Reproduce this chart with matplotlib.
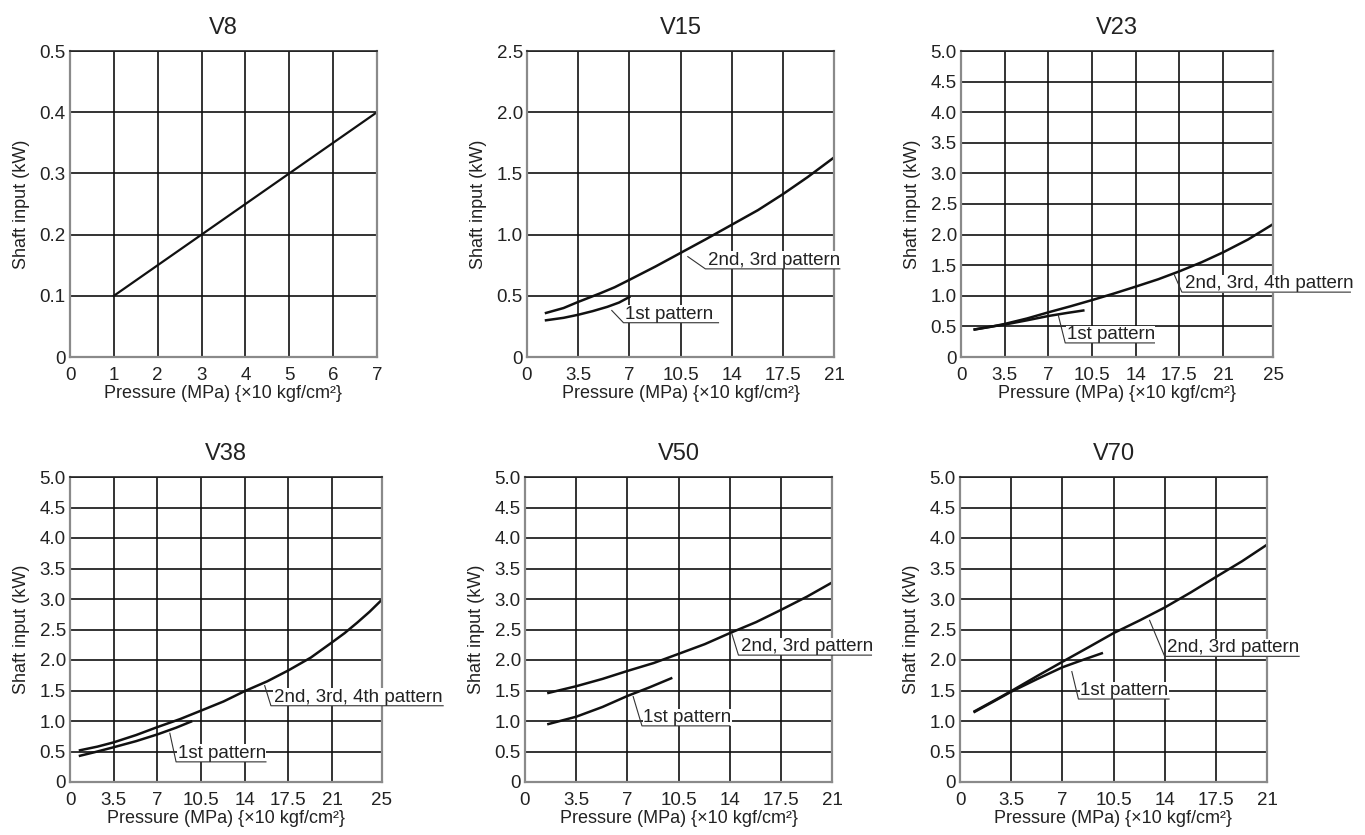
import matplotlib.pyplot as plt

plt.rcParams["font.family"] = ["Liberation Sans", "DejaVu Sans"]

# ---- chart data ----
titles = ["V8", "V15", "V23", "V38", "V50", "V70"]

x_ticks_7 = [0, 1, 2, 3, 4, 5, 6, 7]
x_ticks_21 = [0, 3.5, 7, 10.5, 14, 17.5, 21]
x_ticks_25 = [0, 3.5, 7, 10.5, 14, 17.5, 21, 25]
x_labels_7 = ["0", "1", "2", "3", "4", "5", "6", "7"]
x_labels_21 = ["0", "3.5", "7", "10.5", "14", "17.5", "21"]
x_labels_25 = ["0", "3.5", "7", "10.5", "14", "17.5", "21", "25"]

y_ticks_05 = [0, 0.1, 0.2, 0.3, 0.4, 0.5]
y_labels_05 = ["0", "0.1", "0.2", "0.3", "0.4", "0.5"]
y_ticks_25 = [0, 0.5, 1.0, 1.5, 2.0, 2.5]
y_labels_25 = ["0", "0.5", "1.0", "1.5", "2.0", "2.5"]
y_ticks_50 = [0, 0.5, 1.0, 1.5, 2.0, 2.5, 3.0, 3.5, 4.0, 4.5, 5.0]
y_labels_50 = ["0", "0.5", "1.0", "1.5", "2.0", "2.5", "3.0", "3.5", "4.0", "4.5", "5.0"]

# V8
v8_x = [1, 7]
v8_y = [0.1, 0.4]

# V15
v15_hi_x = [1.3, 2.5, 3.5, 5.0, 6.0, 7, 8.8, 10.5, 12.2, 14, 15.8, 17.5, 19.2, 21]
v15_hi_y = [0.36, 0.40, 0.45, 0.52, 0.57, 0.63, 0.74, 0.85, 0.96, 1.08, 1.20, 1.33, 1.47, 1.63]
v15_lo_x = [1.3, 2.5, 3.5, 4.5, 5.5, 6.3, 7]
v15_lo_y = [0.30, 0.32, 0.345, 0.375, 0.41, 0.445, 0.49]

# V23
v23_hi_x = [1.1, 2.3, 3.5, 5.3, 7, 8.8, 10.5, 12.3, 14, 15.8, 17.5, 19.3, 21, 23, 25]
v23_hi_y = [0.45, 0.49, 0.54, 0.63, 0.73, 0.83, 0.93, 1.04, 1.15, 1.27, 1.40, 1.55, 1.71, 1.92, 2.17]
v23_lo_x = [1.1, 2.2, 3.5, 5.3, 7, 8.5, 9.8]
v23_lo_y = [0.45, 0.49, 0.53, 0.60, 0.67, 0.72, 0.76]

# V38
v38_hi_x = [0.8, 2.2, 3.5, 5.3, 7, 8.8, 10.5, 12.3, 14, 15.8, 17.5, 19.3, 21, 22, 23, 24, 25]
v38_hi_y = [0.52, 0.58, 0.65, 0.77, 0.90, 1.03, 1.17, 1.32, 1.49, 1.65, 1.83, 2.04, 2.29, 2.44, 2.61, 2.79, 2.99]
v38_lo_x = [0.8, 2.0, 3.5, 5.3, 7, 8.5, 9.7]
v38_lo_y = [0.43, 0.49, 0.57, 0.67, 0.78, 0.89, 0.99]

# V50
v50_hi_x = [1.6, 3.5, 5.3, 7, 8.8, 10.5, 12.3, 14, 15.8, 17.5, 19.3, 21]
v50_hi_y = [1.46, 1.57, 1.69, 1.82, 1.95, 2.10, 2.26, 2.44, 2.62, 2.82, 3.04, 3.27]
v50_lo_x = [1.6, 3.5, 5.3, 7, 8.5, 10.0]
v50_lo_y = [0.95, 1.07, 1.23, 1.41, 1.55, 1.70]

# V70
v70_hi_x = [1.0, 2.3, 3.5, 5.3, 7, 8.8, 10.5, 12.3, 14, 15.8, 17.5, 19.3, 21]
v70_hi_y = [1.16, 1.33, 1.49, 1.74, 1.97, 2.21, 2.44, 2.65, 2.86, 3.11, 3.36, 3.62, 3.89]
v70_lo_x = [1.0, 2.3, 3.5, 5.3, 7, 8.5, 9.7]
v70_lo_y = [1.15, 1.32, 1.48, 1.69, 1.88, 2.01, 2.11]

# annotations: label, curve point, underline start, underline end (data units)
v15_notes = [("2nd, 3rd pattern", (11.0, 0.82), (12.2, 0.72), (21.4, 0.72)),
             ("1st pattern", (5.8, 0.38), (6.6, 0.28), (13.1, 0.28))]
v23_notes = [("2nd, 3rd, 4th pattern", (17.1, 1.34), (17.7, 1.06), (31.2, 1.06)),
             ("1st pattern", (7.8, 0.68), (8.35, 0.23), (15.5, 0.23))]
v38_notes = [("2nd, 3rd, 4th pattern", (15.6, 1.58), (16.1, 1.25), (29.9, 1.25)),
             ("1st pattern", (8.0, 0.80), (8.5, 0.33), (15.7, 0.33))]
v50_notes = [("2nd, 3rd pattern", (14.15, 2.43), (14.6, 2.08), (23.7, 2.08)),
             ("1st pattern", (7.4, 1.40), (8.0, 0.92), (14.0, 0.92))]
v70_notes = [("2nd, 3rd pattern", (12.97, 2.65), (14.0, 2.06), (23.2, 2.06)),
             ("1st pattern", (7.65, 1.81), (8.1, 1.36), (14.3, 1.36))]

x_label = "Pressure (MPa) {\u00d710 kgf/cm\u00b2}"
y_label = "Shaft input (kW)"

# ---- layout (pixel boxes of the reference) ----
W, H = 1365, 835
boxes = [(70, 51, 307, 306), (527, 51, 307, 306), (961, 51, 312, 306),
         (70, 477, 312, 305), (525, 477, 307, 305), (960, 477, 307, 305)]

fig = plt.figure(figsize=(W / 100, H / 100), dpi=100)


def make_axes(box):
    left, top, w, h = box
    return fig.add_axes([left / W, 1 - (top + h) / H, w / W, h / H])


def style_axes(ax, title, xticks, xlabels, yticks, ylabels):
    ax.set_xlim(xticks[0], xticks[-1])
    ax.set_ylim(yticks[0], yticks[-1])
    ax.set_xticks(xticks)
    ax.set_xticklabels(xlabels)
    ax.set_yticks(yticks)
    ax.set_yticklabels(ylabels)
    ax.tick_params(length=0, labelsize=13.5, colors="#222222")
    ax.tick_params(axis="x", pad=7)
    ax.tick_params(axis="y", pad=3)
    ax.grid(True, color="#111111", lw=1.2)
    ax.set_axisbelow(True)
    for side in ["left", "bottom", "right"]:
        ax.spines[side].set_color("#8a8a8a")
        ax.spines[side].set_linewidth(1.6)
    ax.spines["top"].set_color("#222222")
    ax.spines["top"].set_linewidth(1.2)
    ax.set_xlabel(x_label, fontsize=13, color="#222222", labelpad=1)
    ax.set_ylabel(y_label, fontsize=13, color="#222222", labelpad=7)
    ax.set_title(title, fontsize=17, color="#222222", pad=12)


def draw_notes(ax, notes):
    for label, p_curve, p_start, p_end in notes:
        ax.plot([p_curve[0], p_start[0], p_end[0]], [p_curve[1], p_start[1], p_end[1]],
                color="#333333", lw=0.8, clip_on=False, zorder=4)
        ax.text(p_start[0] + 0.15 * (p_end[0] - p_start[0]) / 9, p_start[1], label,
                fontsize=13.5, color="#222222", va="bottom", ha="left", zorder=3,
                bbox=dict(facecolor="white", edgecolor="none", pad=0.3))


ax = make_axes(boxes[0])
style_axes(ax, titles[0], x_ticks_7, x_labels_7, y_ticks_05, y_labels_05)
ax.plot(v8_x, v8_y, color="#111111", lw=1.6)

ax = make_axes(boxes[1])
style_axes(ax, titles[1], x_ticks_21, x_labels_21, y_ticks_25, y_labels_25)
ax.plot(v15_hi_x, v15_hi_y, color="#111111", lw=1.8)
ax.plot(v15_lo_x, v15_lo_y, color="#111111", lw=1.8)
draw_notes(ax, v15_notes)

ax = make_axes(boxes[2])
style_axes(ax, titles[2], x_ticks_25, x_labels_25, y_ticks_50, y_labels_50)
ax.plot(v23_hi_x, v23_hi_y, color="#111111", lw=1.8)
ax.plot(v23_lo_x, v23_lo_y, color="#111111", lw=1.8)
draw_notes(ax, v23_notes)

ax = make_axes(boxes[3])
style_axes(ax, titles[3], x_ticks_25, x_labels_25, y_ticks_50, y_labels_50)
ax.plot(v38_hi_x, v38_hi_y, color="#111111", lw=1.8)
ax.plot(v38_lo_x, v38_lo_y, color="#111111", lw=1.8)
draw_notes(ax, v38_notes)

ax = make_axes(boxes[4])
style_axes(ax, titles[4], x_ticks_21, x_labels_21, y_ticks_50, y_labels_50)
ax.plot(v50_hi_x, v50_hi_y, color="#111111", lw=1.8)
ax.plot(v50_lo_x, v50_lo_y, color="#111111", lw=1.8)
draw_notes(ax, v50_notes)

ax = make_axes(boxes[5])
style_axes(ax, titles[5], x_ticks_21, x_labels_21, y_ticks_50, y_labels_50)
ax.plot(v70_hi_x, v70_hi_y, color="#111111", lw=1.8)
ax.plot(v70_lo_x, v70_lo_y, color="#111111", lw=1.8)
draw_notes(ax, v70_notes)

fig.savefig("out.png", dpi=100, facecolor="white")
